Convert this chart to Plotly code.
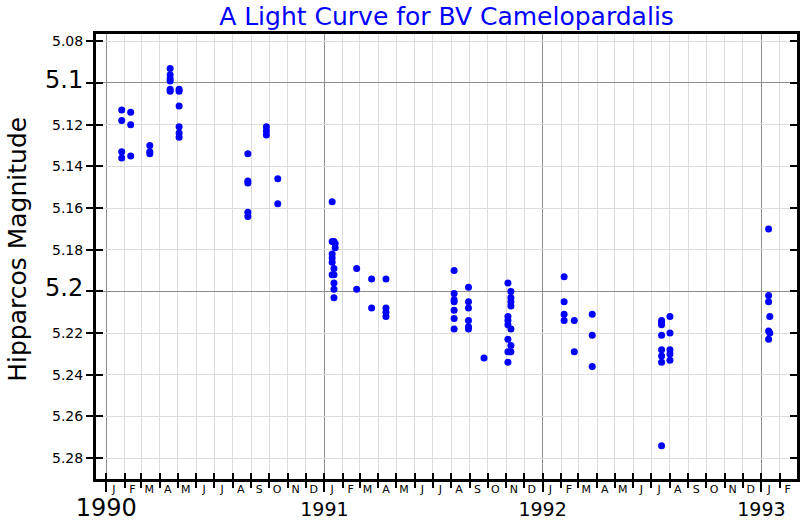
import plotly.graph_objects as go

title_text = "A Light Curve for BV Camelopardalis"
y_title = "Hipparcos Magnitude"

obs_dates = (
    ["1990-01-27"] * 4 + ["1990-02-11"] * 3 + ["1990-03-15"] * 3 +
    ["1990-04-18"] * 6 + ["1990-05-03"] * 6 + ["1990-08-26"] * 5 +
    ["1990-09-26"] * 3 + ["1990-10-15"] * 2 +
    ["1991-01-14"] * 6 + ["1991-01-17"] * 6 + ["1991-01-19"] * 2 +
    ["1991-02-24"] * 2 + ["1991-03-21"] * 2 + ["1991-04-14"] * 4 +
    ["1991-08-06"] * 7 + ["1991-08-30"] * 6 + ["1991-09-25"] * 1 +
    ["1991-11-04"] * 7 + ["1991-11-09"] * 7 +
    ["1992-02-06"] * 4 + ["1992-02-23"] * 2 + ["1992-03-24"] * 3 +
    ["1992-07-18"] * 8 + ["1992-08-01"] * 5 +
    ["1993-01-13"] * 5 + ["1993-01-15"] * 2
)
obs_mags = [
    5.113, 5.118, 5.133, 5.136,
    5.114, 5.120, 5.135,
    5.130, 5.133, 5.134,
    5.093, 5.096, 5.098, 5.099, 5.103, 5.104,
    5.103, 5.104, 5.111, 5.121, 5.124, 5.126,
    5.134, 5.147, 5.148, 5.162, 5.164,
    5.121, 5.123, 5.125,
    5.146, 5.158,
    5.157, 5.176, 5.182, 5.184, 5.186, 5.192,
    5.176, 5.189, 5.192, 5.196, 5.199, 5.203,
    5.177, 5.179,
    5.189, 5.199,
    5.194, 5.208,
    5.194, 5.208, 5.210, 5.212,
    5.190, 5.201, 5.204, 5.205, 5.209, 5.213, 5.218,
    5.198, 5.205, 5.208, 5.214, 5.217, 5.218,
    5.232,
    5.196, 5.212, 5.214, 5.216, 5.223, 5.229, 5.234,
    5.200, 5.203, 5.205, 5.207, 5.218, 5.226, 5.229,
    5.193, 5.205, 5.211, 5.214,
    5.214, 5.229,
    5.211, 5.221, 5.236,
    5.214, 5.215, 5.216, 5.221, 5.228, 5.231, 5.234, 5.274,
    5.212, 5.220, 5.228, 5.230, 5.233,
    5.170, 5.202, 5.205, 5.219, 5.223,
    5.212, 5.220,
]

x_range = ["1989-12-15", "1993-03-01 12:00"]
y_range = [5.29, 5.0765]

y_tick_vals = [5.08, 5.10, 5.12, 5.14, 5.16, 5.18, 5.20, 5.22, 5.24, 5.26, 5.28]
y_tick_labels = ["5.08", "5.1", "5.12", "5.14", "5.16", "5.18", "5.2", "5.22", "5.24", "5.26", "5.28"]
y_major_vals = [5.10, 5.20]

year_vals = ["1990-01-01", "1991-01-01", "1992-01-01", "1993-01-01"]
year_labels = ["1990", "1991", "1992", "1993"]
month_letters = ["J", "F", "M", "A", "M", "J", "J", "A", "S", "O", "N", "D"]
years = [1990, 1991, 1992, 1993]
last_month_1993 = 2

month_starts, month_mids, month_text = [], [], []
for yr in years:
    for m in range(1, 13):
        if yr == years[-1] and m > last_month_1993:
            break
        month_starts.append(f"{yr}-{m:02d}-01")
        month_mids.append(f"{yr}-{m:02d}-14")
        month_text.append(month_letters[m - 1])

big_y = {"5.1", "5.2"}
y_tick_text = [f"<span style='font-size:24px'>{t}</span>" if t in big_y else t for t in y_tick_labels]
year_text = [f"<span style='font-size:24px'>{t}</span>" if t == "1990" else t for t in year_labels]

fig = go.Figure()
fig.add_trace(go.Scatter(
    x=obs_dates, y=obs_mags, mode="markers",
    marker=dict(color="#0000ff", size=7, line=dict(width=0)),
    xaxis="x", yaxis="y", showlegend=False,
))
for xa, ya in [("x2", "y"), ("x", "y2"), ("x", "y3")]:
    fig.add_trace(go.Scatter(x=[None], y=[None], xaxis=xa, yaxis=ya, mode="markers",
                             showlegend=False, hoverinfo="skip"))

fig.update_layout(
    width=800, height=520,
    margin=dict(l=96, r=3, t=34, b=41, autoexpand=False),
    paper_bgcolor="white", plot_bgcolor="white",
    font=dict(family="DejaVu Sans", color="black"),
    showlegend=False,
    title=dict(text=title_text, font=dict(size=25, color="#0000ff"),
               x=0.5, xref="paper", xanchor="center",
               y=1 - 16 / 520, yref="container", yanchor="middle", automargin=False),
    xaxis=dict(
        type="date", range=x_range, tickmode="array", tickvals=year_vals, ticktext=year_text,
        ticks="outside", ticklen=10, tickwidth=2, tickcolor="black", tickfont=dict(size=19),
        ticklabelstandoff=1, automargin=False,
        showgrid=True, gridcolor="#8c8c8c", gridwidth=1,
        showline=True, linecolor="black", linewidth=3, mirror=True, zeroline=False,
        minor=dict(tickmode="array", tickvals=month_starts, ticks="outside", ticklen=6,
                   tickwidth=2, tickcolor="black", showgrid=True, gridcolor="#dddddd", gridwidth=1),
    ),
    xaxis2=dict(
        type="date", overlaying="x", anchor="y", side="bottom", range=x_range,
        tickmode="array", tickvals=month_mids, ticktext=month_text, ticks="",
        tickfont=dict(size=11), showgrid=False, showline=False, zeroline=False, automargin=False,
        ticklabelstandoff=2,
        minor=dict(tickmode="array", tickvals=month_starts, ticks="inside", ticklen=6,
                   tickwidth=2, tickcolor="black", showgrid=False),
    ),
    yaxis=dict(
        range=y_range, tickmode="array", tickvals=y_tick_vals, ticktext=y_tick_text,
        ticks="outside", ticklen=7, tickwidth=2, tickcolor="black", tickfont=dict(size=14),
        showgrid=True, gridcolor="#dddddd", gridwidth=1, automargin=False,
        showline=True, linecolor="black", linewidth=3, mirror="allticks", zeroline=False,
    ),
    yaxis2=dict(
        overlaying="y", anchor="x", side="left", range=y_range, automargin=False,
        tickmode="array", tickvals=y_tick_vals, ticks="inside", ticklen=7, tickwidth=2,
        tickcolor="black", showticklabels=False, showgrid=False,
        showline=True, linecolor="black", linewidth=3, mirror="allticks", zeroline=False,
    ),
    yaxis3=dict(
        overlaying="y", anchor="x", side="left", range=y_range, automargin=False,
        tickmode="array", tickvals=y_major_vals, ticks="", showticklabels=False,
        showgrid=True, gridcolor="#8c8c8c", gridwidth=1, showline=False, zeroline=False,
    ),
    annotations=[dict(text=y_title, textangle=-90, font=dict(size=25),
                      xref="paper", yref="paper", x=(18 - 96) / 701, y=0.515,
                      xanchor="center", yanchor="middle", showarrow=False)],
)

fig.write_html("out.html")
